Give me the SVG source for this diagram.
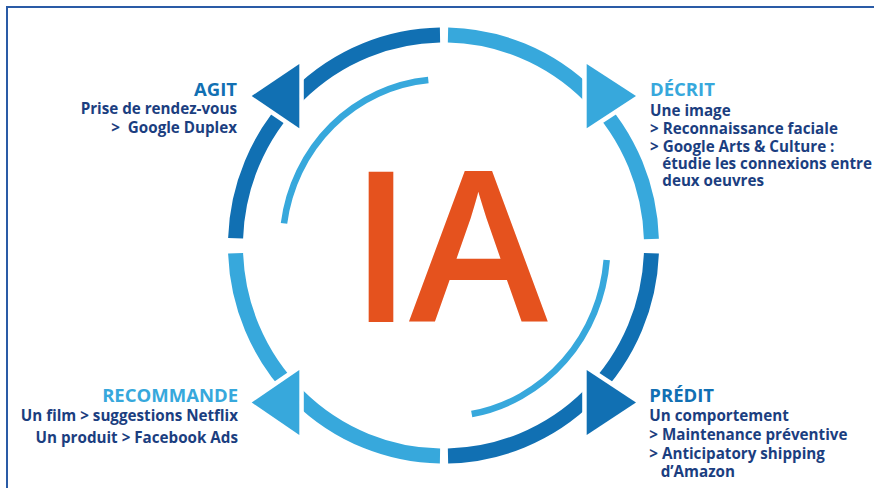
<svg xmlns="http://www.w3.org/2000/svg" width="874" height="488" viewBox="0 0 874 488">
<style>
.ring{fill:none;stroke-width:15;stroke-linecap:butt}
.inner{fill:none;stroke:#37a8dc;stroke-width:6.5;stroke-linecap:butt}
.dark{stroke:#1170b3}
.light{stroke:#37a8dc}
.arrow{stroke:#ffffff;stroke-width:9;stroke-linejoin:round;paint-order:stroke fill}
.fdark{fill:#1170b3}
.flight{fill:#37a8dc}
.h{font-family:"Open Sans","Liberation Sans",sans-serif;font-weight:700;font-size:18.5px}
.b{font-family:"Open Sans","Liberation Sans",sans-serif;font-weight:700;font-size:15.2px;fill:#1b3e80}
.ia{font-family:"Open Sans","Liberation Sans",sans-serif;font-weight:600;font-size:210px;fill:#e5521e}
</style>
<rect width="874" height="488" fill="#ffffff"/>
<path d="M7 488V7H874" fill="none" stroke="#2a5ba6" stroke-width="2"/>
<g id="connectors">
<path class="ring dark" d="M440 35A208 210.5 0 0 0 235.6 238.3"/>
<path class="ring light" d="M448 35A208 210.5 0 0 1 651.4 239"/>
<path class="ring dark" d="M651.4 253.3A208 210.5 0 0 1 448 456"/>
<path class="ring light" d="M235.6 253.3A208 210.5 0 0 0 440 456"/>
<path class="inner" d="M428.3 80A161 166.5 0 0 0 284 223.3"/>
<path class="inner" d="M606.7 260A164 171 0 0 1 471.7 414"/>
<polygon class="arrow fdark" points="251.7,96 299.3,64 299.3,128.3"/>
<polygon class="arrow flight" points="636,96 586.7,64 586.7,128.3"/>
<polygon class="arrow flight" points="251.7,402.5 299.3,370 299.3,435"/>
<polygon class="arrow fdark" points="636,402.5 586.7,370 586.7,435"/>
</g>
<g id="center">
<text class="ia" y="321.7"><tspan x="349">I</tspan><tspan x="409">A</tspan></text>
</g>
<g id="agit" text-anchor="end">
<text class="h" x="237" y="96" fill="#1170b3">AGIT</text>
<text class="b" x="237" y="114">Prise de rendez-vous</text>
<text class="b" x="237" y="132.7">&gt;&#160; Google Duplex</text>
</g>
<g id="decrit">
<text class="h" x="650" y="95.7" fill="#37a8dc">DÉCRIT</text>
<text class="b" x="650" y="116">Une image</text>
<text class="b" x="650" y="134">&gt; Reconnaissance faciale</text>
<text class="b" x="650" y="151.7">&gt; Google Arts &amp; Culture :</text>
<text class="b" x="662.3" y="169">étudie les connexions entre</text>
<text class="b" x="662.3" y="186">deux oeuvres</text>
</g>
<g id="recommande" text-anchor="end">
<text class="h" x="238" y="401.7" fill="#37a8dc">RECOMMANDE</text>
<text class="b" x="238" y="420.7">Un film &gt; suggestions Netflix</text>
<text class="b" x="238" y="443.3">Un produit &gt; Facebook Ads</text>
</g>
<g id="predit">
<text class="h" x="649.3" y="402.3" fill="#1170b3">PRÉDIT</text>
<text class="b" x="649.3" y="421">Un comportement</text>
<text class="b" x="649.3" y="440">&gt; Maintenance préventive</text>
<text class="b" x="649.3" y="459.3">&gt; Anticipatory shipping</text>
<text class="b" x="660.7" y="476.7">d’Amazon</text>
</g>
</svg>
